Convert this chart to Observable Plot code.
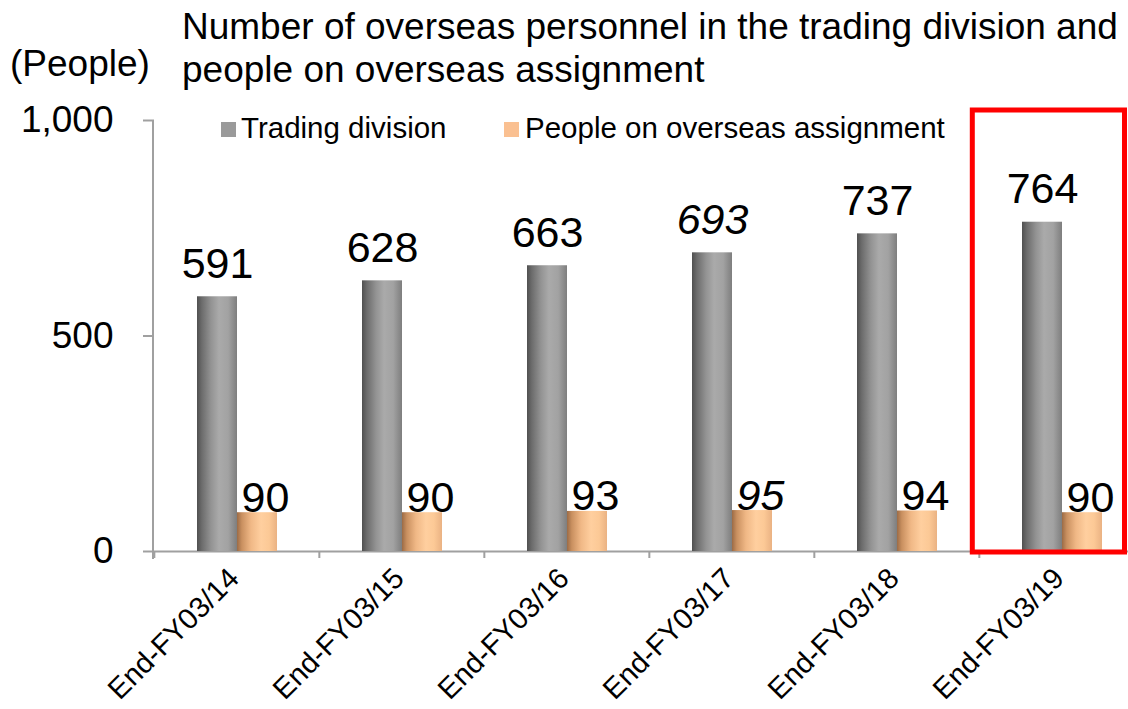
<!DOCTYPE html>
<html>
<head>
<meta charset="utf-8">
<script src="https://cdn.jsdelivr.net/npm/d3@7"></script>
<script src="https://cdn.jsdelivr.net/npm/@observablehq/plot@0.6"></script>
<style>
  html, body { margin: 0; padding: 0; background: #fff; }
  #wrap { position: relative; width: 1128px; height: 709px; overflow: hidden; font-family: "Liberation Sans", Arial, sans-serif; color: #000; }
  .abs { position: absolute; white-space: nowrap; }
  #title { left: 182px; top: 5px; font-size: 37px; line-height: 43px; }
  #unit { left: 10px; top: 42px; font-size: 37px; line-height: 43px; }
  #chart { position: absolute; left: 0; top: 95px; }
  .leg { font-size: 29.5px; line-height: 34px; top: 111px; }
  .sw { position: absolute; width: 15px; height: 15px; top: 122px; }
</style>
</head>
<body>
<div id="wrap">
  <div id="title" class="abs">Number of overseas personnel in the trading division and<br>people on overseas assignment</div>
  <div id="unit" class="abs">(People)</div>
  <div id="chart"></div>
  <div class="sw" style="left:221px;background:#9a9a9a"></div>
  <div class="abs leg" style="left:241px">Trading division</div>
  <div class="sw" style="left:504px;background:#fac091"></div>
  <div class="abs leg" style="left:525px">People on overseas assignment</div>
</div>
<script>
const categories = ["End-FY03/14", "End-FY03/15", "End-FY03/16", "End-FY03/17", "End-FY03/18", "End-FY03/19"];
const seriesNames = ["Trading division", "People on overseas assignment"];
const tradingValues = [591, 628, 663, 693, 737, 764];
const overseasValues = [90, 90, 93, 95, 94, 90];
const italicLabels = [false, false, false, true, false, false];
const yTicks = [0, 500, 1000];
const highlighted = ["End-FY03/19"];

const trading = categories.map((c, i) => ({cat: c, series: seriesNames[0], value: tradingValues[i], italic: italicLabels[i]}));
const overseas = categories.map((c, i) => ({cat: c, series: seriesNames[1], value: overseasValues[i], italic: italicLabels[i]}));

const defs = () => {
  const g = d3.create("svg:g");
  const d = g.append("defs");
  const mk = (id, stops) => {
    const lg = d.append("linearGradient").attr("id", id).attr("x1", 0).attr("x2", 1).attr("y1", 0).attr("y2", 0);
    stops.forEach(([o, c]) => lg.append("stop").attr("offset", o).attr("stop-color", c));
  };
  mk("gGray", [[0, "#505050"], [0.12, "#6c6c6c"], [0.35, "#939393"], [0.55, "#aaaaaa"], [0.78, "#a2a2a2"], [1, "#7e7e7e"]]);
  mk("gOrange", [[0, "#9c6b45"], [0.12, "#c99060"], [0.35, "#f0b886"], [0.6, "#ffcf9f"], [0.8, "#fcc996"], [1, "#eab283"]]);
  return g.node();
};

const axisColor = "#a0a0a0";
const fmt = d3.format(",");

const plot = Plot.plot({
  width: 1128,
  height: 614,
  marginTop: 25,
  marginBottom: 158,
  marginLeft: 153,
  marginRight: -17,
  style: {fontFamily: "'Liberation Sans', Arial, sans-serif", background: "transparent", color: "#000", overflow: "visible"},
  fx: {domain: categories, padding: 0, axis: null, label: null},
  x: {domain: seriesNames, paddingInner: 0, paddingOuter: 1.02, axis: null},
  y: {domain: [0, 1000], axis: null},
  marks: [
    defs,
    Plot.axisY({ticks: yTicks, tickFormat: fmt, tickSize: 11, tickPadding: 30, fontSize: 37, stroke: axisColor, strokeWidth: 2, fill: "#000", label: null}),
    Plot.axisFx({anchor: "bottom", tickSize: 7, tickFormat: () => "", dx: -(1145 - 153) / 12, stroke: axisColor, strokeWidth: 2, label: null}),
    Plot.ruleY([0], {stroke: axisColor, strokeWidth: 2}),
    Plot.barY(trading, {fx: "cat", x: "series", y: "value", fill: "url(#gGray)"}),
    Plot.barY(overseas, {fx: "cat", x: "series", y: "value", fill: "url(#gOrange)"}),
    Plot.text(trading, {filter: d => !d.italic, fx: "cat", x: "series", y: "value", text: d => fmt(d.value), lineAnchor: "bottom", dy: -19, fontSize: 43}),
    Plot.text(trading, {filter: d => d.italic, fx: "cat", x: "series", y: "value", text: d => fmt(d.value), lineAnchor: "bottom", dy: -19, fontSize: 43, fontStyle: "italic"}),
    Plot.text(overseas, {filter: d => !d.italic, fx: "cat", x: "series", y: "value", text: d => fmt(d.value), lineAnchor: "bottom", dy: -1, dx: 8, fontSize: 43}),
    Plot.text(overseas, {filter: d => d.italic, fx: "cat", x: "series", y: "value", text: d => fmt(d.value), lineAnchor: "bottom", dy: -1, dx: 8, fontSize: 43, fontStyle: "italic"}),
    Plot.text(categories, {fx: d => d, text: d => d, frameAnchor: "bottom", rotate: -45, textAnchor: "end", lineAnchor: "middle", dx: -3, dy: 22, fontSize: 29}),
    Plot.rect(highlighted, {fx: d => d, stroke: "#ff0000", strokeWidth: 5, fill: "none", insetLeft: -6.7, insetRight: 19.5, insetTop: -10, insetBottom: -1})
  ]
});

document.getElementById("chart").appendChild(plot);

// y-axis domain line, placed with the plot's own scales
const ys = plot.scale("y");
const fxs = plot.scale("fx");
d3.select(plot).append("line")
  .attr("x1", fxs.range[0]).attr("x2", fxs.range[0])
  .attr("y1", ys.apply(1000)).attr("y2", ys.apply(0) + 8)
  .attr("stroke", axisColor).attr("stroke-width", 2);
</script>
</body>
</html>
